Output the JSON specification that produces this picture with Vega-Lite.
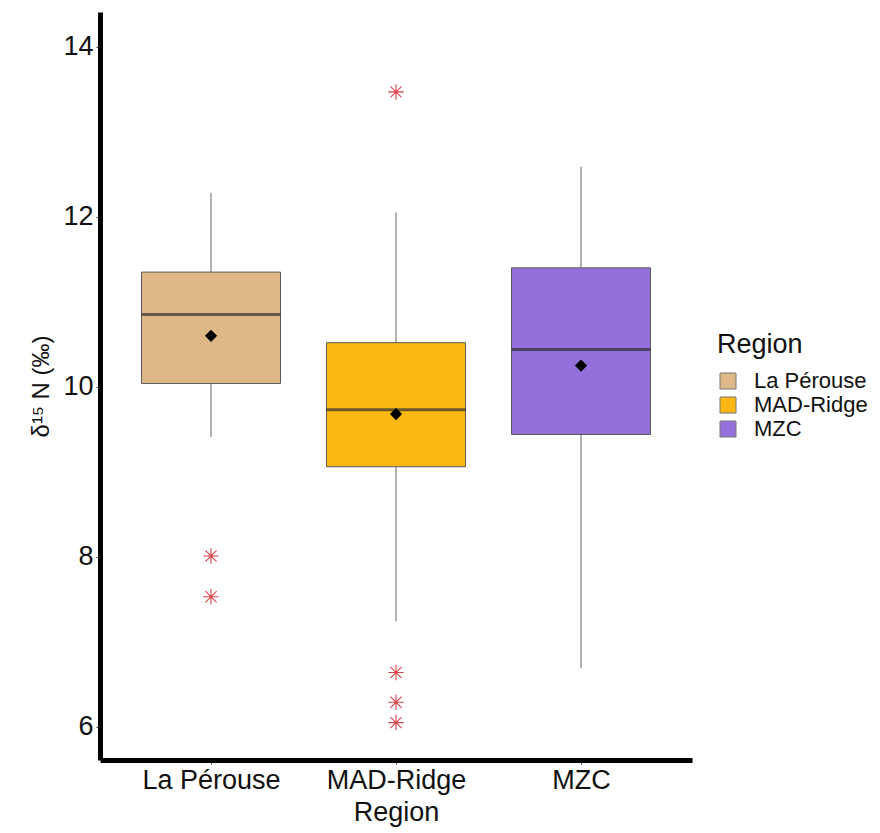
{
  "$schema": "https://vega.github.io/schema/vega-lite/v6.json",
  "autosize": "none",
  "width": 592,
  "height": 748,
  "padding": {"left": 100, "top": 12, "right": 188, "bottom": 73},
  "background": "white",
  "config": {
    "font": "Liberation Sans",
    "view": {"stroke": null}
  },
  "datasets": {
    "summary": [
      {"Region": "La Pérouse", "lower": 9.41, "q1": 10.04, "median": 10.85, "q3": 11.35, "upper": 12.28, "mean": 10.6},
      {"Region": "MAD-Ridge", "lower": 7.24, "q1": 9.06, "median": 9.73, "q3": 10.52, "upper": 12.05, "mean": 9.68},
      {"Region": "MZC", "lower": 6.69, "q1": 9.44, "median": 10.44, "q3": 11.4, "upper": 12.59, "mean": 10.25}
    ],
    "outliers": [
      {"Region": "La Pérouse", "value": 8.01},
      {"Region": "La Pérouse", "value": 7.53},
      {"Region": "MAD-Ridge", "value": 13.47},
      {"Region": "MAD-Ridge", "value": 6.64},
      {"Region": "MAD-Ridge", "value": 6.29},
      {"Region": "MAD-Ridge", "value": 6.05}
    ]
  },
  "encoding": {
    "x": {
      "field": "Region", "type": "nominal",
      "scale": {"type": "point", "padding": 0.6, "domain": ["La Pérouse", "MAD-Ridge", "MZC"]},
      "axis": {
        "title": "Region", "titleFontSize": 27, "titleFontWeight": "normal", "titleColor": "#111", "titlePadding": 6,
        "labelFontSize": 27, "labelColor": "#111", "labelAngle": 0, "labelPadding": 3,
        "domainColor": "black", "domainWidth": 5, "tickColor": "#333", "tickSize": 4, "tickWidth": 1, "grid": false
      }
    }
  },
  "layer": [
    {
      "data": {"name": "summary"},
      "mark": {"type": "rule", "color": "#7f7f7f", "strokeWidth": 1.2},
      "encoding": {
        "y": {
          "field": "lower", "type": "quantitative",
          "scale": {"domain": [5.61, 14.41], "nice": false, "zero": false},
          "axis": {
            "title": "δ¹⁵ N (‰)", "titleFontSize": 24, "titleFontWeight": "normal", "titleColor": "#111", "titlePadding": 9,
            "values": [6, 8, 10, 12, 14], "format": "d", "labelFontSize": 27, "labelColor": "#111", "labelPadding": 3,
            "domainColor": "black", "domainWidth": 5, "tickColor": "#333", "tickSize": 4, "tickWidth": 1, "grid": false
          }
        },
        "y2": {"field": "upper"}
      }
    },
    {
      "data": {"name": "summary"},
      "mark": {"type": "bar", "size": 139, "stroke": "#5a5a5a", "strokeWidth": 1},
      "encoding": {
        "y": {"field": "q1", "type": "quantitative"},
        "y2": {"field": "q3"},
        "fill": {
          "field": "Region", "type": "nominal",
          "scale": {"domain": ["La Pérouse", "MAD-Ridge", "MZC"], "range": ["#DEB887", "#FDB913", "#9370DB"]},
          "legend": {
            "title": "Region", "titleFontSize": 27, "titleFontWeight": "normal", "titleColor": "#111",
            "labelFontSize": 22, "labelColor": "#111", "labelOffset": 15, "symbolType": "square", "symbolSize": 256,
            "symbolStrokeColor": "#777", "symbolStrokeWidth": 1, "rowPadding": 2, "titlePadding": 11,
            "orient": "none", "legendX": 617, "legendY": 320
          }
        }
      }
    },
    {
      "data": {"name": "summary"},
      "mark": {"type": "tick", "size": 139, "thickness": 3, "color": "#2e2e2e"},
      "encoding": {
        "y": {"field": "median", "type": "quantitative"}
      }
    },
    {
      "data": {"name": "summary"},
      "mark": {"type": "point", "shape": "diamond", "filled": true, "color": "black", "size": 150, "opacity": 1},
      "encoding": {
        "y": {"field": "mean", "type": "quantitative"}
      }
    },
    {
      "data": {"name": "outliers"},
      "mark": {"type": "point", "shape": "M -1 0 L 1 0 M 0 -1 L 0 1 M -0.72 -0.72 L 0.72 0.72 M -0.72 0.72 L 0.72 -0.72", "filled": false, "color": "#D9434A", "strokeWidth": 1.1, "size": 240, "opacity": 1},
      "encoding": {
        "y": {"field": "value", "type": "quantitative"}
      }
    }
  ]
}
